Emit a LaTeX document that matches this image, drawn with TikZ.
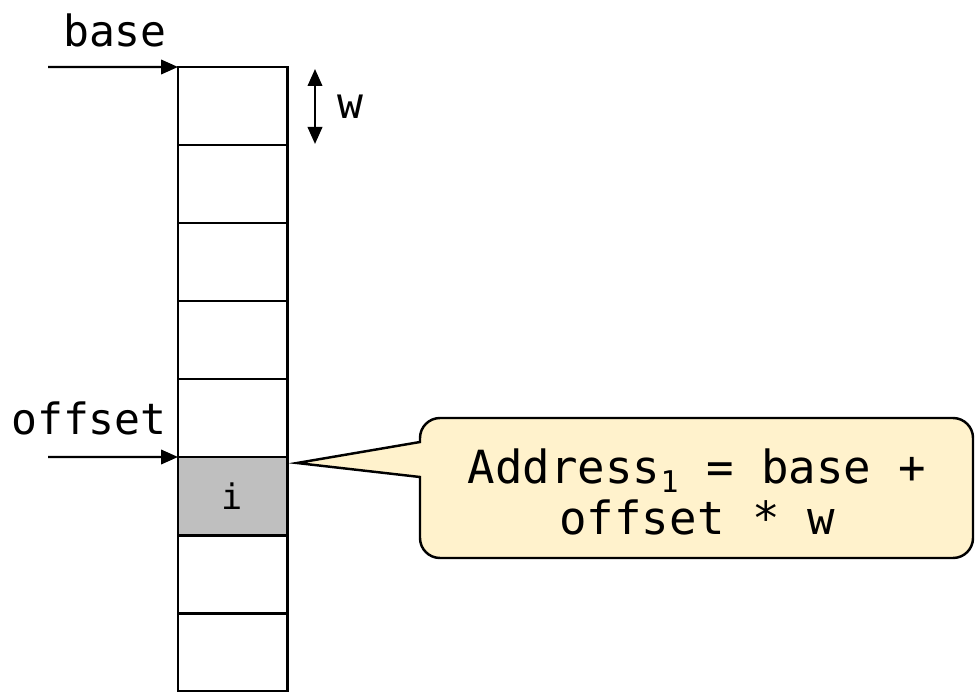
\documentclass[tikz,border=0pt]{standalone}
\usepackage{fontspec}
\setmonofont{DejaVu Sans Mono}
\usetikzlibrary{positioning, arrows.meta}
\definecolor{notefill}{HTML}{FFF2CC}

\begin{document}
\begin{tikzpicture}[x=0.2mm, y=-0.2mm,
    cell/.style={draw, line width=1.7pt, minimum width=21.8mm, minimum height=15.6mm, inner sep=0pt, outer sep=0pt, font=\ttfamily\fontsize{20}{24}\selectfont},
    picked/.style={cell, fill=black!25},
    ptr/.style={line width=1.3pt, -{Triangle[length=3.4mm, width=2.9mm]}},
    tag/.style={font=\ttfamily\fontsize{24.5}{28}\selectfont, inner sep=0pt},
    callout/.style={draw, line width=1.4pt, fill=notefill}
  ]
  \useasboundingbox (0,0) rectangle (976,691);

  % the array: eight slots of width w
  \foreach \k in {1,...,8} {
    \node[cell] (c\k) at (232.5, 28+78*\k) {};
  }
  \node[picked] (c6) at (232.5, 496) {i};

  % base pointer
  \node[tag] (base) at (115,30) {base};
  \coordinate (basefrom) at (48,67);
  \draw[ptr] (basefrom) -- (c1.north west);

  % offset pointer
  \node[tag] (offset) at (89,418) {offset};
  \coordinate (offfrom) at (48,457);
  \draw[ptr] (offfrom) -- (c6.north west);

  % slot size
  \coordinate (wtop) at (315,69);
  \coordinate (wbot) at (315,144);
  \draw[line width=1.3pt, {Triangle[length=3.4mm, width=2.9mm]}-{Triangle[length=3.4mm, width=2.9mm]}] (wtop) -- (wbot);
  \node[tag, right=4.4mm of wtop, yshift=-7.6mm] (w) {w};

  % address formula
  \coordinate (tip) at (297,463);
  \filldraw[callout] (tip) -- (420,477)
    {[rounded corners=4mm] -- (420,558) -- (973,558) -- (973,418) -- (420,418)}
    -- (420,442) -- cycle;
  \node[tag, align=center, font=\ttfamily\fontsize{26}{29}\selectfont] (addr) at (697,492)
    {Address\raisebox{-1.7mm}{\fontsize{17}{17}\selectfont 1} = base +\\offset * w};
\end{tikzpicture}
\end{document}
